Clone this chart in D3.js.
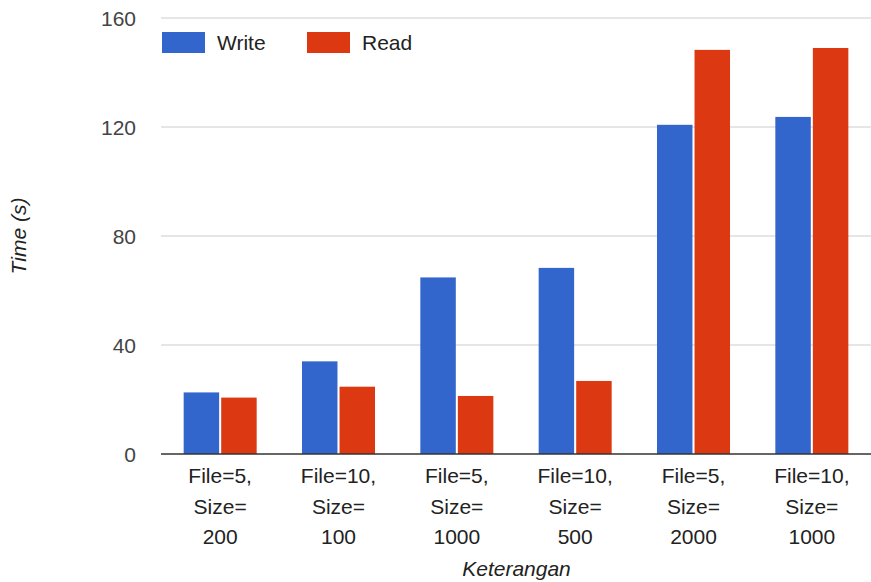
<!DOCTYPE html>
<html>
<head>
<meta charset="utf-8">
<script src="https://cdn.jsdelivr.net/npm/d3@7"></script>
<style>
  html, body { margin: 0; padding: 0; background: #fff; }
  svg { display: block; font-family: Arial, "Liberation Sans", sans-serif; }
</style>
</head>
<body>
<svg id="chart" width="871" height="582"></svg>
<script>
const categories = [
  ["File=5,", "Size=", "200"],
  ["File=10,", "Size=", "100"],
  ["File=5,", "Size=", "1000"],
  ["File=10,", "Size=", "500"],
  ["File=5,", "Size=", "2000"],
  ["File=10,", "Size=", "1000"]
];
const seriesNames = ["Write", "Read"];
const writeValues = [22.6, 34.0, 64.8, 68.3, 120.8, 123.7];
const readValues = [20.7, 24.7, 21.3, 26.8, 148.3, 149.0];
const yTicks = [0, 40, 80, 120, 160];
const colors = ["#3366cc", "#dc3912"];

const svg = d3.select("#chart");
const plotLeft = 161, plotRight = 871, plotTop = 18, plotBottom = 454;
const fontSize = 21;

const keys = categories.map((c, i) => "c" + i);
const x0 = d3.scaleBand().domain(keys).range([plotLeft, plotRight]).paddingInner(0.383).paddingOuter(0.1915);
const x1 = d3.scaleBand().domain(seriesNames).range([0, x0.bandwidth()]).paddingInner(0.055);
const y = d3.scaleLinear().domain([0, 160]).range([plotBottom, plotTop]);

// gridlines
svg.append("g").selectAll("line").data(yTicks.filter(t => t !== 0)).join("line")
  .attr("x1", plotLeft).attr("x2", plotRight)
  .attr("y1", d => y(d)).attr("y2", d => y(d))
  .attr("stroke", "#cccccc").attr("stroke-width", 1);

// y tick labels
svg.append("g").selectAll("text").data(yTicks).join("text")
  .attr("x", 136).attr("y", d => y(d)).attr("dy", "0.36em")
  .attr("text-anchor", "end").attr("font-size", fontSize).attr("fill", "#444")
  .text(d => d);

// bars
const data = categories.map((c, i) => ({ key: keys[i], vals: [writeValues[i], readValues[i]] }));
const groups = svg.append("g").selectAll("g").data(data).join("g")
  .attr("transform", d => `translate(${x0(d.key)},0)`);
groups.selectAll("rect").data(d => d.vals.map((v, j) => ({ name: seriesNames[j], v, j }))).join("rect")
  .attr("x", d => x1(d.name)).attr("width", x1.bandwidth())
  .attr("y", d => y(d.v)).attr("height", d => y(0) - y(d.v))
  .attr("fill", d => colors[d.j]);

// baseline
svg.append("line").attr("x1", plotLeft).attr("x2", plotRight).attr("y1", y(0)).attr("y2", y(0))
  .attr("stroke", "#333").attr("stroke-width", 1.5);

// x labels
const xl = svg.append("g").selectAll("text").data(categories).join("text")
  .attr("x", (d, i) => x0(keys[i]) + x0.bandwidth() / 2)
  .attr("y", 483)
  .attr("text-anchor", "middle").attr("font-size", fontSize).attr("fill", "#222");
xl.selectAll("tspan").data(d => d).join("tspan")
  .attr("x", function () { return d3.select(this.parentNode).attr("x"); })
  .attr("dy", (d, i) => i === 0 ? 0 : 30.5)
  .text(d => d);

// axis titles
svg.append("text").attr("x", (plotLeft + plotRight) / 2 + 0.5).attr("y", 576)
  .attr("text-anchor", "middle").attr("font-size", fontSize).attr("font-style", "italic").attr("fill", "#222")
  .text("Keterangan");
svg.append("text").attr("transform", "translate(26,236) rotate(-90)")
  .attr("text-anchor", "middle").attr("font-size", fontSize).attr("font-style", "italic").attr("fill", "#222")
  .text("Time (s)");

// legend
const legend = svg.append("g").selectAll("g").data(seriesNames).join("g")
  .attr("transform", (d, i) => `translate(${i === 0 ? 162 : 307},32)`);
legend.append("rect").attr("width", 43).attr("height", 21).attr("fill", (d, i) => colors[i]);
legend.append("text").attr("x", 55).attr("y", 10.5).attr("dy", "0.36em")
  .attr("font-size", fontSize).attr("fill", "#222").text(d => d);
</script>
</body>
</html>
